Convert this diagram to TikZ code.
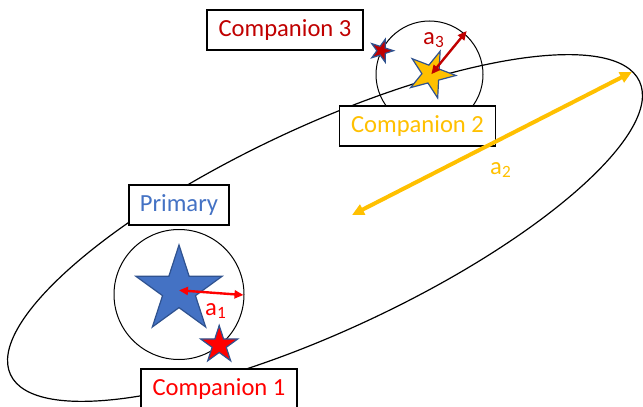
\documentclass[tikz,border=0pt]{standalone}
\usepackage{fontspec}
\setmainfont{Carlito}
\usepackage{xcolor}
\usetikzlibrary{shapes.geometric,arrows.meta}

\definecolor{primblue}{HTML}{4472C4}
\definecolor{starline}{HTML}{2F528F}
\definecolor{compgold}{HTML}{FFC000}
\definecolor{compdark}{HTML}{C00000}
\definecolor{compred}{HTML}{FF0000}

\tikzset{
  labelbox/.style={draw,line width=0.7pt,fill=white,minimum width=78pt,minimum height=20pt,inner sep=0pt,font=\fontsize{12.3}{14}\selectfont},
  starnode/.style={star,star points=5,star point ratio=2.618,inner sep=0pt,draw=starline,line width=0.6pt},
  sizelabel/.style={font=\fontsize{12.3}{14}\selectfont,inner sep=0pt},
}

\begin{document}
\begin{tikzpicture}[x=0.5pt,y=-0.5pt]
  \useasboundingbox (0,0) rectangle (643,407);

  % outer orbit
  \draw[line width=0.6pt,rotate around={25:(325,228)}] (325,228) ellipse [x radius=347,y radius=102];

  % orbits of the inner pairs
  \draw[line width=0.5pt] (179,294.5) circle (65);
  \draw[line width=0.5pt] (429.5,74.5) circle (53.5);

  % the stars
  \node[starnode,fill=primblue,minimum size=45.3pt] (prim) at (179,290.3) {};
  \node[starnode,fill=compred,minimum size=19.5pt] (comp1) at (219.2,345) {};
  \node[starnode,fill=compgold,minimum size=24.6pt,shape border rotate=-21] (comp2) at (431.3,74.2) {};
  \node[starnode,fill=compdark,minimum size=12pt,shape border rotate=-18] (comp3) at (381.5,50.7) {};

  % labels
  \node[labelbox,text=compdark] (lab3) at (285,30) {Companion 3};
  \node[labelbox,text=compgold] (lab2) at (417.5,126) {Companion 2};
  \node[labelbox,text=primblue,minimum width=50pt] (labp) at (179,205) {Primary};
  \node[labelbox,text=compred] (lab1) at (219,389) {Companion 1};

  % separations
  \coordinate (a1end) at (243.5,295);
  \coordinate (a3end) at (466.7,31);
  \coordinate (a2start) at (352,215);
  \coordinate (a2end) at (632,72);
  \draw[compred,line width=1.2pt,{Triangle[length=4.5pt,width=4pt]}-{Triangle[length=4.5pt,width=4pt]}] (prim.center) -- (a1end);
  \draw[compdark,line width=1.2pt,{Triangle[length=4.5pt,width=4pt]}-{Triangle[length=4.5pt,width=4pt]}] (comp2.center) -- (a3end);
  \draw[compgold,line width=2pt,{Triangle[length=6pt,width=5.5pt]}-{Triangle[length=6pt,width=5.5pt]}] (a2start) -- (a2end);

  \node[sizelabel,text=compred] (a1lab) at (216,311) {a\textsubscript{1}};
  \node[sizelabel,text=compdark] (a3lab) at (434,40) {a\textsubscript{3}};
  \node[sizelabel,text=compgold] (a2lab) at (501,170) {a\textsubscript{2}};
\end{tikzpicture}
\end{document}
